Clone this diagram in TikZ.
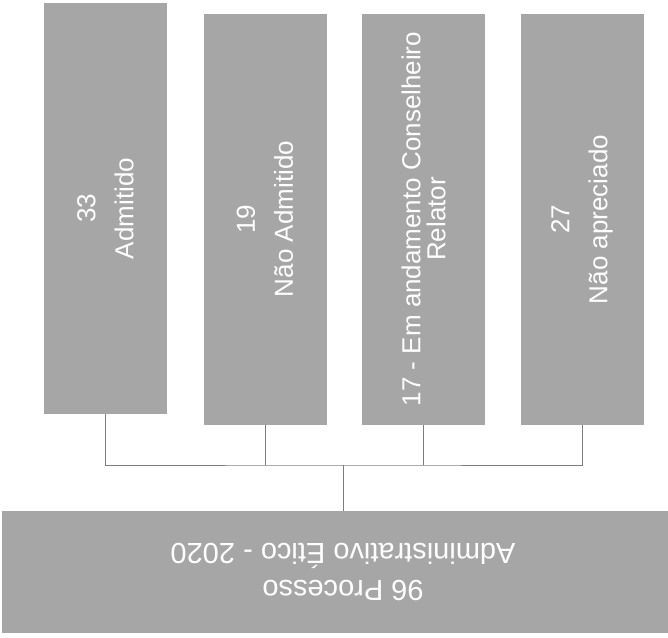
\documentclass[tikz,border=0pt]{standalone}
\usepackage{fontspec}
\setmainfont{Liberation Sans}
\usetikzlibrary{positioning}
\definecolor{screen}{RGB}{166,166,166}
\definecolor{wire}{RGB}{125,125,125}

\begin{document}
\begin{tikzpicture}[x=1pt,y=-1pt,
  outcome/.style={rectangle,fill=screen,rotate=90,minimum width=411pt,minimum height=123pt,inner sep=0pt,text=white,align=center,font=\fontsize{26}{38}\selectfont},
  total/.style={rectangle,fill=screen,rotate=180,minimum width=682pt,minimum height=122pt,inner sep=0pt,text=white,align=center,font=\fontsize{29}{37}\selectfont},
  link/.style={wire,line width=1pt}]
\clip (0,0) rectangle (668,637);
% outcomes
\node[outcome] (b1) at (105.5,208.5) {33\\Admitido};
\node[outcome] (b2) at (265,219) {19\\Não Admitido};
\node[outcome,font=\fontsize{26}{25}\selectfont] (b3) at (423.5,219) {17 - Em andamento Conselheiro\\Relator};
\node[outcome] (b4) at (582,219.5) {27\\Não apreciado};
% total (turned upside down)
\node[total] (root) at (343,572) {96 Processo\\Administrativo Ético - 2020};
% connectors: west of a turned box is its lower side, south of root its upper side
\coordinate (bus) at (343,465);
\draw[link] (b1.west) |- (bus) -| (b4.west);
\draw[link] (b2.west) -- (b2.west |- bus);
\draw[link] (b3.west) -- (b3.west |- bus);
\draw[link] (root.south) -- (bus);
\end{tikzpicture}
\end{document}
